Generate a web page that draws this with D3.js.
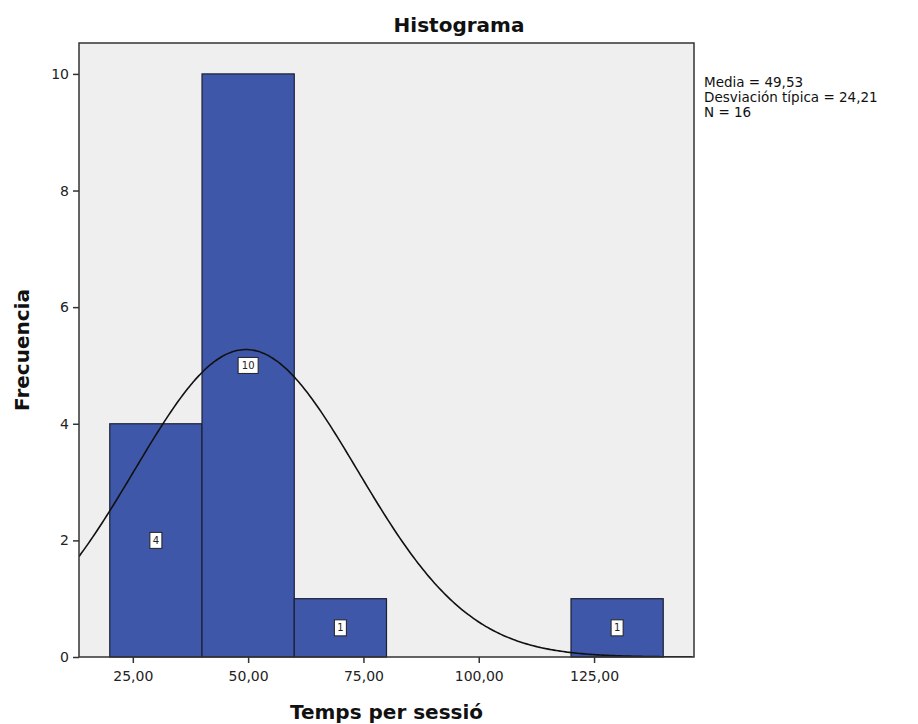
<!DOCTYPE html>
<html><head><meta charset="utf-8">
<script src="https://cdn.jsdelivr.net/npm/d3@7"></script>
<style>body{margin:0;background:#fff}svg{display:block}</style>
</head><body>
<svg id="c" width="918" height="724"></svg>
<script>
const binStarts = [20, 40, 60, 120];
const binEnds = [40, 60, 80, 140];
const counts = [4, 10, 1, 1];
const xTicks = [25, 50, 75, 100, 125];
const yTicks = [0, 2, 4, 6, 8, 10];
const statsLines = ["Media = 49,53", "Desviación típica = 24,21", "N = 16"];
const mean = 49.53, sd = 24.21, n = 16, binWidth = 20;

const svg = d3.select("#c");
const L = 79, R = 694, T = 43, B = 657;
const x = d3.scaleLinear().domain([13.33, 146.67]).range([L, R]);
const y = d3.scaleLinear().domain([0, 10.53]).range([B, T]);
const fmt = v => d3.format(".2f")(v).replace(".", ",");
const font = "'DejaVu Sans', sans-serif";

svg.append("rect").attr("x", L).attr("y", T).attr("width", R - L).attr("height", B - T)
  .attr("fill", "#efefef");

svg.append("defs").append("clipPath").attr("id", "clip")
  .append("rect").attr("x", L).attr("y", T).attr("width", R - L).attr("height", B - T);

const bins = counts.map((c, i) => ({x0: binStarts[i], x1: binEnds[i], c}));
svg.append("g").selectAll("rect").data(bins).join("rect")
  .attr("x", d => x(d.x0)).attr("y", d => y(d.c))
  .attr("width", d => x(d.x1) - x(d.x0)).attr("height", d => y(0) - y(d.c))
  .attr("fill", "#3e57a8").attr("stroke", "#1c2035").attr("stroke-width", 1.2);

// normal curve
const pts = d3.range(13.33, 146.7, 0.5).map(v => [v, n * binWidth / (sd * Math.sqrt(2 * Math.PI)) * Math.exp(-0.5 * ((v - mean) / sd) ** 2)]);
svg.append("path").datum(pts).attr("clip-path", "url(#clip)")
  .attr("d", d3.line().x(d => x(d[0])).y(d => y(d[1])).curve(d3.curveBasis))
  .attr("fill", "none").attr("stroke", "#111").attr("stroke-width", 1.6);

// count labels
const lg = svg.append("g").selectAll("g").data(bins).join("g")
  .attr("transform", d => `translate(${x((d.x0 + d.x1) / 2)},${y(d.c / 2)})`);
lg.append("rect").attr("x", d => d.c >= 10 ? -10 : -6).attr("y", -8)
  .attr("width", d => d.c >= 10 ? 20 : 12).attr("height", 16)
  .attr("fill", "#fff").attr("stroke", "#222").attr("stroke-width", 1);
lg.append("text").attr("text-anchor", "middle").attr("dy", "0.35em")
  .attr("font-family", font).attr("font-size", 10).attr("fill", "#222").text(d => d.c);

// frame
svg.append("rect").attr("x", L).attr("y", T).attr("width", R - L).attr("height", B - T)
  .attr("fill", "none").attr("stroke", "#333").attr("stroke-width", 1.5);

// axes
const xa = svg.append("g").attr("transform", `translate(0,${B})`)
  .call(d3.axisBottom(x).tickValues(xTicks).tickFormat(fmt).tickSize(6).tickPadding(8));
const ya = svg.append("g").attr("transform", `translate(${L},0)`)
  .call(d3.axisLeft(y).tickValues(yTicks).tickFormat(d3.format("d")).tickSize(6).tickPadding(4));
[xa, ya].forEach(a => {
  a.select(".domain").remove();
  a.selectAll("line").attr("stroke", "#333").attr("stroke-width", 1.5);
  a.selectAll("text").attr("font-family", font).attr("font-size", 14).attr("fill", "#222");
});

svg.append("text").attr("x", 459).attr("y", 32).attr("text-anchor", "middle")
  .attr("font-family", font).attr("font-weight", "bold").attr("font-size", 20).attr("fill", "#111")
  .text("Histograma");
svg.append("text").attr("x", (L + R) / 2).attr("y", 719).attr("text-anchor", "middle")
  .attr("font-family", font).attr("font-weight", "bold").attr("font-size", 20).attr("fill", "#111")
  .text("Temps per sessió");
svg.append("text").attr("transform", `translate(29,${(T + B) / 2}) rotate(-90)`).attr("text-anchor", "middle")
  .attr("font-family", font).attr("font-weight", "bold").attr("font-size", 20).attr("fill", "#111")
  .text("Frecuencia");

svg.append("g").selectAll("text").data(statsLines).join("text")
  .attr("x", 704).attr("y", (d, i) => 87 + i * 15)
  .attr("font-family", font).attr("font-size", 13.5).attr("fill", "#111").text(d => d);
</script>
</body></html>
